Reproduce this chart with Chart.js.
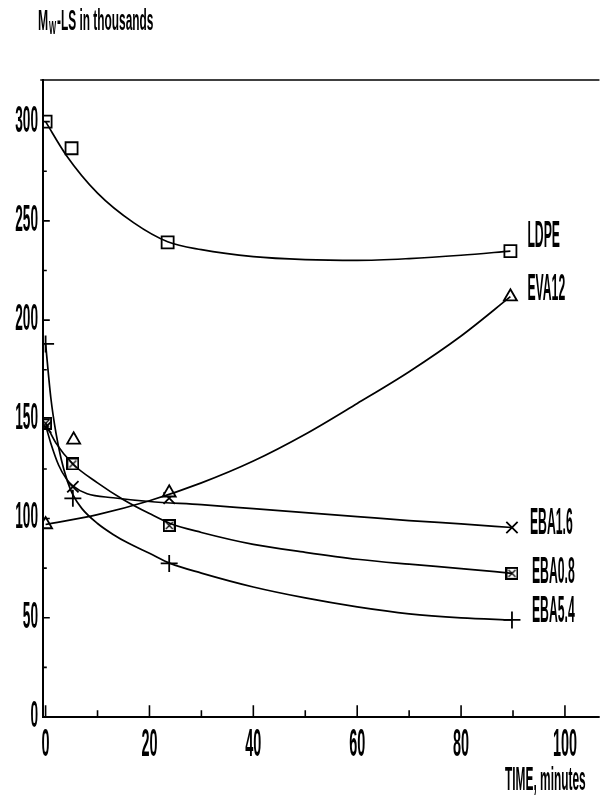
<!DOCTYPE html>
<html>
<head>
<meta charset="utf-8">
<script src="https://cdn.jsdelivr.net/npm/chart.js@4.4.1/dist/chart.umd.min.js"></script>
<style>
  html, body { margin: 0; padding: 0; background: #fff; }
  #wrap { width: 609px; height: 796px; }
</style>
</head>
<body>
<div id="wrap"><canvas id="c" width="609" height="796"></canvas></div>
<script>
// ---- axis ticks ----
const yTickValues = [0, 50, 100, 150, 200, 250, 300];
const yMinorTicks = [25, 75, 125, 175, 225, 275];
const xTickValues = [0, 20, 40, 60, 80, 100];
const xMinorTicks = [10, 30, 50, 70, 90];

// ---- series names ----
const seriesNames = ['LDPE', 'EVA12', 'EBA1.6', 'EBA0.8', 'EBA5.4'];

// ---- measured points (time in minutes, Mw-LS in thousands) ----
const ldpeTime = [0, 5, 23.5, 89.5];
const ldpeMw = [300, 286.6, 239.2, 234.8];
const eva12Time = [0, 5.4, 23.8, 89.5];
const eva12Mw = [97, 139.7, 113, 211.8];
const eba16Time = [0, 5.25, 23.8, 89.8];
const eba16Mw = [146, 116, 110.3, 95.5];
const eba08Time = [0, 5.25, 23.8, 89.8];
const eba08Mw = [148, 127.5, 96.5, 72.4];
const eba54Time = [0, 5.25, 23.8, 89.8];
const eba54Mw = [188, 110.2, 77.4, 48.9];

// ---- fitted curves ----
const ldpeFitTime = [0, 4, 10, 17, 23.5, 30, 40, 50, 60, 70, 80, 89.5];
const ldpeFitMw = [300, 283, 264, 249, 239.5, 235.5, 232, 230.5, 230.1, 231, 232.7, 234.8];
const eva12FitTime = [0, 10, 20, 30, 40, 50, 60, 70, 80, 89.5];
const eva12FitMw = [97, 102, 109, 118, 129, 142.5, 158, 174, 192, 211.8];
const eba16FitTime = [0, 1, 2.5, 4, 5.25, 8, 13, 20, 30, 40, 50, 60, 70, 80, 89.8];
const eba16FitMw = [147, 138, 127, 120, 116.5, 112.5, 110.5, 108.6, 107, 105, 103, 101, 99, 97.3, 95.5];
const eba08FitTime = [0, 2, 5.25, 10, 15, 20, 24, 30, 40, 50, 60, 70, 80, 89.8];
const eba08FitMw = [148, 138, 127.5, 118, 109.5, 102.5, 97.5, 93, 87, 83, 79.5, 77, 74.8, 72.4];
const eba54FitTime = [0, 1, 2, 3, 4, 5.25, 7, 10, 13, 16, 20, 24, 30, 40, 50, 60, 70, 80, 89.8];
const eba54FitMw = [188, 161, 143, 130, 120.5, 112, 105, 97.5, 92, 87.5, 82.5, 77.4, 72.5, 65.5, 60, 55.5, 52, 50, 48.9];

const pts = (xs, ys) => xs.map((x, i) => ({ x: x, y: ys[i] }));

// square-with-cross marker
function boxCross(size) {
  const cv = document.createElement('canvas');
  cv.width = size; cv.height = size;
  const g = cv.getContext('2d');
  g.fillStyle = '#fff';
  g.fillRect(1, 1, size - 2, size - 2);
  g.strokeStyle = '#000';
  g.lineWidth = 2;
  g.strokeRect(1, 1, size - 2, size - 2);
  g.lineWidth = 1.3;
  g.beginPath();
  g.moveTo(3, 3); g.lineTo(size - 3, size - 3);
  g.moveTo(size - 3, 3); g.lineTo(3, size - 3);
  g.stroke();
  return cv;
}

function curve(data) {
  return {
    data: data, showLine: true, borderColor: '#000', borderWidth: 1.7,
    pointRadius: 0, pointHoverRadius: 0, fill: false,
    cubicInterpolationMode: 'monotone'
  };
}
function markers(data, style, radius) {
  return {
    data: data, showLine: false, pointStyle: style, pointRadius: radius,
    pointHoverRadius: radius, borderColor: '#000', backgroundColor: '#fff',
    pointBorderWidth: 1.8
  };
}

const endLabelOffsets = [[17, -14], [17, -7], [18, -4], [20, -1], [20, -8]];
const endPoints = [
  [ldpeTime, ldpeMw], [eva12Time, eva12Mw], [eba16Time, eba16Mw],
  [eba08Time, eba08Mw], [eba54Time, eba54Mw]
];

function drawText(ctx, s, x, y, size, align, sx) {
  ctx.save();
  ctx.translate(x, y);
  ctx.scale(sx, 1);
  ctx.font = 'bold ' + size + 'px "Liberation Sans", Arial, sans-serif';
  ctx.textAlign = align;
  ctx.textBaseline = 'middle';
  ctx.fillStyle = '#000';
  ctx.fillText(s, 0, 0);
  ctx.restore();
}

const framePlugin = {
  id: 'frame',
  afterDraw(chart) {
    const ctx = chart.ctx;
    const a = chart.chartArea;
    const xs = chart.scales.x, ys = chart.scales.y;
    ctx.save();
    ctx.strokeStyle = '#000';
    ctx.lineCap = 'square';
    // axes
    ctx.lineWidth = 2;
    ctx.beginPath();
    ctx.moveTo(a.left, a.top); ctx.lineTo(a.left, a.bottom); ctx.lineTo(a.right, a.bottom);
    ctx.stroke();
    ctx.lineWidth = 1.5;
    ctx.beginPath();
    ctx.moveTo(a.left - 2, a.top); ctx.lineTo(a.right, a.top);
    ctx.stroke();
    // tick marks pointing into the plot
    ctx.lineWidth = 1.6;
    ctx.beginPath();
    yTickValues.forEach(v => { const y = ys.getPixelForValue(v); ctx.moveTo(a.left, y); ctx.lineTo(a.left + 6, y); });
    yMinorTicks.forEach(v => { const y = ys.getPixelForValue(v); ctx.moveTo(a.left, y); ctx.lineTo(a.left + 3, y); });
    xTickValues.forEach(v => { const x = xs.getPixelForValue(v); ctx.moveTo(x, a.bottom); ctx.lineTo(x, a.bottom - 11); });
    xMinorTicks.forEach(v => { const x = xs.getPixelForValue(v); ctx.moveTo(x, a.bottom); ctx.lineTo(x, a.bottom - 6); });
    ctx.stroke();
    // tick labels
    yTickValues.forEach(v => drawText(ctx, String(v), a.left - 5, ys.getPixelForValue(v), 36, 'right', 0.38));
    xTickValues.forEach(v => drawText(ctx, String(v), xs.getPixelForValue(v), a.bottom + 28, 39, 'center', 0.37));
    // axis titles
    drawText(ctx, 'TIME, minutes', a.right - 13, a.bottom + 64, 34, 'right', 0.35);
    drawText(ctx, 'M', 38, 22, 29, 'left', 0.42);
    drawText(ctx, 'W', 49, 29, 18, 'left', 0.42);
    drawText(ctx, '-LS in thousands', 57, 22, 29, 'left', 0.41);
    // series names at the last measured point
    seriesNames.forEach((name, i) => {
      const [tx, ty] = endPoints[i];
      const n = tx.length - 1;
      const px = xs.getPixelForValue(tx[n]) + endLabelOffsets[i][0];
      const py = ys.getPixelForValue(ty[n]) + endLabelOffsets[i][1];
      drawText(ctx, name, px, py, 37, 'left', 0.33);
    });
    ctx.restore();
  }
};

new Chart(document.getElementById('c'), {
  type: 'scatter',
  data: {
    datasets: [
      curve(pts(ldpeFitTime, ldpeFitMw)),
      curve(pts(eva12FitTime, eva12FitMw)),
      curve(pts(eba16FitTime, eba16FitMw)),
      curve(pts(eba08FitTime, eba08FitMw)),
      curve(pts(eba54FitTime, eba54FitMw)),
      markers(pts(ldpeTime, ldpeMw), 'rect', 8.5),
      markers(pts(eva12Time, eva12Mw), 'triangle', 7.5),
      markers(pts(eba16Time, eba16Mw), 'crossRot', 8),
      markers(pts(eba08Time, eba08Mw), boxCross(13), 6),
      markers(pts(eba54Time, eba54Mw), 'cross', 8.5)
    ]
  },
  options: {
    responsive: false,
    animation: false,
    layout: { padding: { left: 43, right: 9, top: 80, bottom: 79 } },
    plugins: { legend: { display: false }, tooltip: { enabled: false }, title: { display: false } },
    scales: {
      x: { type: 'linear', display: false, min: -0.5, max: 106.5 },
      y: { type: 'linear', display: false, min: 0, max: 321 }
    }
  },
  plugins: [framePlugin]
});
</script>
</body>
</html>
